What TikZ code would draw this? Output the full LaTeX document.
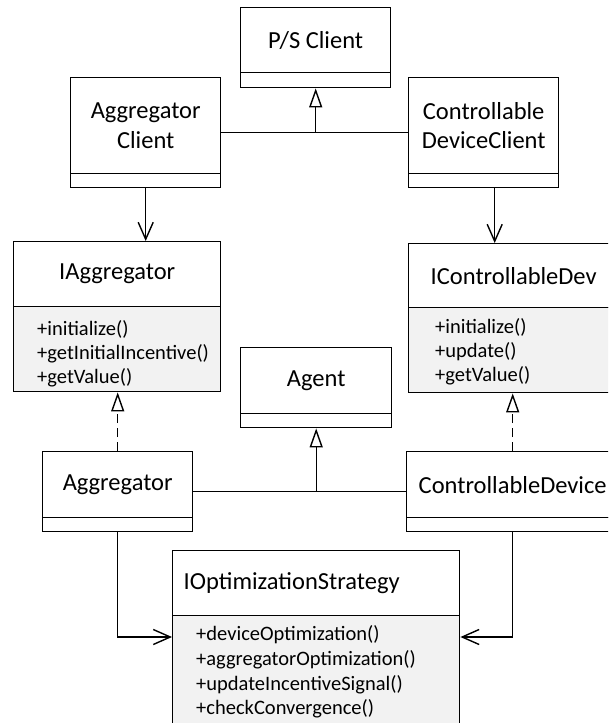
\documentclass[tikz,border=0pt]{standalone}
\usepackage{fontspec}
\setmainfont{Carlito}
\usetikzlibrary{arrows.meta,calc}

\definecolor{opsgrey}{RGB}{242,242,242}

\tikzset{
  box/.style={draw=black, line width=1.4pt, fill=white, rectangle, inner sep=0pt, anchor=north west},
  ops/.style={box, fill=opsgrey},
  title/.style={font=\fontsize{24.5}{29.5}\selectfont, align=center},
  members/.style={font=\fontsize{20.5}{24}\selectfont, align=left, anchor=west, inner sep=0pt},
  wire/.style={line width=1.4pt},
  inherit/.style={wire, -{Triangle[open, length=19pt, width=13pt, fill=white]}},
  realize/.style={inherit, dash pattern=on 9pt off 5pt},
  uses/.style={wire, -{Straight Barb[length=17pt, width=15pt]}},
}

\begin{document}
\begin{tikzpicture}[x=1pt, y=-1pt]
  \useasboundingbox (0,0) rectangle (608,723);
  \clip (0,0) rectangle (608,723);

  % P/S Client
  \node[box, title, minimum width=150pt, minimum height=65pt] (psH) at (240,7) {P/S Client};
  \node[box, minimum width=150pt, minimum height=15pt] (psC) at (240,72) {};

  % Aggregator Client
  \node[box, title, minimum width=150pt, minimum height=96pt] (aggcH) at (70,77) {Aggregator\\Client};
  \node[box, minimum width=150pt, minimum height=14pt] (aggcC) at (70,173) {};

  % Controllable Device Client
  \node[box, title, minimum width=150pt, minimum height=96pt] (cdcH) at (408,77) {Controllable\\DeviceClient};
  \node[box, minimum width=150pt, minimum height=14pt] (cdcC) at (408,173) {};

  % IAggregator interface
  \node[box, title, minimum width=207pt, minimum height=65pt] (iaggH) at (13,241) {IAggregator};
  \node[ops, minimum width=207pt, minimum height=85pt] (iaggC) at (13,306) {};
  \node[members] (iaggOps) at (37,353.5) {+initialize()\\+getInitialIncentive()\\+getValue()};

  % IControllableDev interface
  \node[box, title, minimum width=210pt, minimum height=64pt] (icdH) at (408,243) {IControllableDev};
  \node[ops, minimum width=210pt, minimum height=85pt] (icdC) at (408,307) {};
  \node[members] (icdOps) at (435,352) {+initialize()\\+update()\\+getValue()};

  % Agent
  \node[box, title, minimum width=151pt, minimum height=66pt] (agentH) at (240,347) {Agent};
  \node[box, minimum width=151pt, minimum height=14pt] (agentC) at (240,413) {};

  % Aggregator
  \node[box, title, minimum width=150pt, minimum height=66pt] (aggH) at (42,451) {Aggregator};
  \node[box, minimum width=150pt, minimum height=14pt] (aggC) at (42,517) {};

  % Controllable Device
  \node[box, title, minimum width=212pt, minimum height=66pt] (cdH) at (406,451) {ControllableDevice};
  \node[box, minimum width=212pt, minimum height=14pt] (cdC) at (406,517) {};

  % IOptimizationStrategy interface
  \node[box, title, align=left, text width=265pt, minimum width=287pt, minimum height=65pt] (ioptH) at (172,550) {IOptimizationStrategy};
  \node[ops, minimum width=287pt, minimum height=120pt] (ioptC) at (172,615) {};
  \node[members, font=\fontsize{20.5}{24.7}\selectfont] (ioptOps) at (196,672)
    {+deviceOptimization()\\+aggregatorOptimization()\\+updateIncentiveSignal()\\+checkConvergence()};

  % connection points at the middle of the class boxes
  \coordinate (aggcMid) at ($(aggcH.north east)!0.5!(aggcC.south east)$);
  \coordinate (cdcMid) at ($(cdcH.north west)!0.5!(cdcC.south west)$);
  \coordinate (aggMid) at ($(aggH.north east)!0.5!(aggC.south east)$);
  \coordinate (cdMid) at ($(cdH.north west)!0.5!(cdC.south west)$);

  % generalization to P/S Client
  \draw[wire] (aggcMid) -- (cdcMid);
  \draw[inherit] (psC.south |- aggcMid) -- (psC.south);

  % client associations
  \draw[uses] (aggcC.south) -- (aggcC.south |- iaggH.north);
  \draw[uses] ([xshift=11pt]cdcC.south) -- ([xshift=11pt]cdcC.south |- icdH.north);

  % realizations
  \draw[realize] (aggH.north) -- (aggH.north |- iaggC.south);
  \draw[realize] (cdH.north) -- (cdH.north |- icdC.south);

  % generalization to Agent
  \draw[wire] (aggMid) -- (cdMid);
  \draw[inherit] (agentC.south |- aggMid) -- (agentC.south);

  % strategy associations
  \draw[uses] (aggC.south) |- ([yshift=-22pt]ioptC.north west);
  \draw[uses] (cdC.south) |- ([yshift=-22pt]ioptC.north east);
\end{tikzpicture}
\end{document}
